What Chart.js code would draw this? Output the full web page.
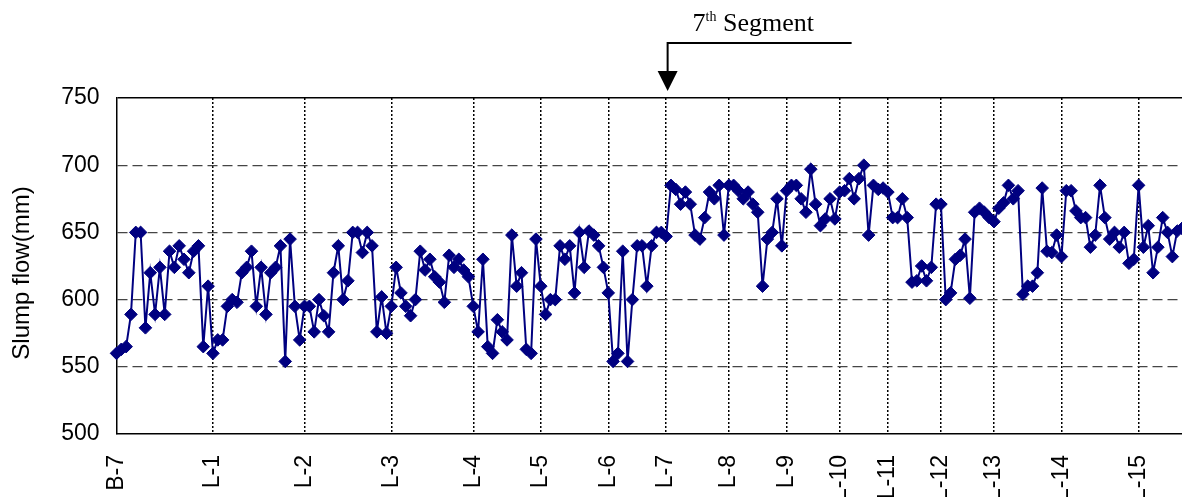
<!DOCTYPE html>
<html>
<head>
<meta charset="utf-8">
<script src="https://cdn.jsdelivr.net/npm/chart.js@4/dist/chart.umd.min.js"></script>
<style>
  html, body { margin: 0; padding: 0; background: #fff; }
  #wrap { width: 1182px; height: 497px; position: relative; }
</style>
</head>
<body>
<div id="wrap"><canvas id="slump-chart"></canvas></div>
<script>
// slump flow readings, one per truck, in mm
const slumpFlow = [
    560, 563, 565, 589, 650, 650, 579, 620, 589, 624,
    589, 636, 624, 640, 630, 620, 636, 640, 565, 610,
    560, 570, 570, 595, 600, 598, 620, 624, 636, 595,
    624, 589, 620, 624, 640, 554, 645, 595, 570, 595,
    595, 576, 600, 588, 576, 620, 640, 600, 614, 650,
    650, 635, 650, 640, 576, 602, 575, 595, 624, 605,
    595, 588, 600, 636, 622, 630, 617, 613, 598, 633,
    624, 630, 622, 617, 595, 576, 630, 565, 560, 585,
    576, 570, 648, 610, 620, 563, 560, 645, 610, 589,
    600, 600, 640, 630, 640, 605, 650, 624, 651, 648,
    640, 624, 605, 554, 560, 636, 554, 600, 640, 640,
    610, 640, 650, 650, 647, 685, 682, 671, 680, 671,
    648, 645, 661, 680, 675, 685, 648, 685, 685, 681,
    675, 680, 671, 665, 610, 645, 650, 675, 640, 681,
    685, 685, 675, 665, 697, 671, 655, 660, 675, 660,
    680, 681, 690, 675, 690, 700, 648, 685, 682, 683,
    680, 661, 661, 675, 661, 613, 614, 625, 614, 624,
    671, 671, 600, 605, 630, 633, 645, 601, 665, 668,
    665, 661, 658, 668, 672, 685, 675, 681, 604, 610,
    610, 620, 683, 636, 635, 648, 632, 681, 681, 666,
    661, 661, 639, 648, 685, 661, 645, 650, 639, 650,
    627, 630, 685, 639, 655, 620, 639, 661, 650, 632,
    651, 653
]

// lot names and the reading where each lot starts
const lotNames = ['B-7', 'L-1', 'L-2', 'L-3', 'L-4', 'L-5', 'L-6', 'L-7',
                  'L-8', 'L-9', 'L-10', 'L-11', 'L-12', 'L-13', 'L-14', 'L-15']
const lotStart = [0, 20, 39, 57, 74, 88, 102, 114, 127, 139, 150, 160, 171, 182, 196, 212]

const yTicks = [500, 550, 600, 650, 700, 750]
const yTitle = 'Slump flow(mm)'
const markerLot = 'L-7'
const markerText = ['7', 'th', ' Segment']

const navy = '#000080'
const sans = '"Liberation Sans", Arial, sans-serif'
const serif = '"Liberation Serif", "Times New Roman", serif'

let labels = slumpFlow.map(() => '')
lotStart.forEach((idx, i) => { labels[idx] = lotNames[i] })

// arrow + "7th Segment" over the start of the 7th segment, and the y title
const extras = {
    id: 'extras',
    afterDraw(chart) {
        const ctx = chart.ctx
        const area = chart.chartArea
        const idx = lotStart[lotNames.indexOf(markerLot)]
        const x = chart.scales.x.getPixelForValue(idx) + 1.5
        const top = area.top

        ctx.save()
        ctx.strokeStyle = '#000'
        ctx.fillStyle = '#000'
        ctx.lineWidth = 2
        ctx.beginPath()
        ctx.moveTo(x + 184, top - 55)
        ctx.lineTo(x, top - 55)
        ctx.lineTo(x, top - 26)
        ctx.stroke()

        ctx.beginPath()
        ctx.moveTo(x - 10, top - 27)
        ctx.lineTo(x + 10, top - 27)
        ctx.lineTo(x, top - 7)
        ctx.closePath()
        ctx.fill()

        let tx = x + 25
        const base = top - 67
        ctx.textBaseline = 'alphabetic'
        ctx.textAlign = 'left'
        ctx.font = '26px ' + serif
        ctx.fillText(markerText[0], tx, base)
        tx += ctx.measureText(markerText[0]).width
        ctx.font = '14px ' + serif
        ctx.fillText(markerText[1], tx, base - 10)
        tx += ctx.measureText(markerText[1]).width
        ctx.font = '26px ' + serif
        ctx.fillText(markerText[2], tx, base)

        // y axis title, a little below the middle of the plot like the original
        ctx.translate(22, (area.top + area.bottom) / 2 + 7)
        ctx.rotate(-Math.PI / 2)
        ctx.textAlign = 'center'
        ctx.textBaseline = 'middle'
        ctx.font = '24px ' + sans
        ctx.fillText(yTitle, 0, 0)
        ctx.restore()
    }
}

const config = {
    type: 'line',
    data: {
        labels: labels,
        datasets: [{
            label: 'Slump flow',
            data: slumpFlow,
            borderColor: navy,
            backgroundColor: navy,
            borderWidth: 2,
            pointStyle: 'rectRot',
            pointRadius: 6.3,
            pointBackgroundColor: navy,
            pointBorderColor: navy,
            pointBorderWidth: 1,
            tension: 0,
            fill: false,
            clip: false
        }]
    },
    options: {
        responsive: true,
        maintainAspectRatio: false,
        animation: false,
        events: [],
        layout: { autoPadding: false, padding: { top: 98, right: 0, bottom: 0, left: 0 } },
        plugins: {
            legend: { display: false },
            tooltip: { enabled: false }
        },
        scales: {
            x: {
                type: 'category',
                offset: false,
                afterFit: (scale) => {
                    scale.height = 63
                    scale.paddingLeft = 0
                    scale.paddingRight = 0
                },
                grid: {
                    offset: false,
                    drawTicks: false,
                    lineWidth: 1.5,
                    color: (c) => (c.tick && c.tick.label !== '' && c.index > 0) ? '#000' : 'rgba(0,0,0,0)'
                },
                border: {
                    color: '#000',
                    width: 1.5,
                    dash: (c) => c.tick ? [2, 2] : []
                },
                ticks: {
                    autoSkip: false,
                    maxRotation: 90,
                    minRotation: 90,
                    padding: 21,
                    color: '#000',
                    font: { family: sans, size: 23 }
                }
            },
            y: {
                min: yTicks[0],
                max: yTicks[yTicks.length - 1],
                afterFit: (scale) => { scale.width = 116.5 },
                afterBuildTicks: (scale) => { scale.ticks = yTicks.map(v => ({ value: v })) },
                grid: {
                    drawTicks: false,
                    lineWidth: (c) => (c.tick && c.tick.value === 750) ? 1.5 : 1.3,
                    color: (c) => {
                        if (!c.tick || c.tick.value === 500) return 'rgba(0,0,0,0)'
                        return c.tick.value === 750 ? '#000' : '#454545'
                    }
                },
                border: {
                    color: '#000',
                    width: 1.5,
                    dash: (c) => (c.tick && c.tick.value > 500 && c.tick.value < 750) ? [10, 5] : []
                },
                ticks: {
                    padding: 17,
                    color: '#000',
                    font: { family: sans, size: 23 }
                }
            }
        }
    },
    plugins: [extras]
}

document.addEventListener('DOMContentLoaded', () => {
    new Chart(document.getElementById('slump-chart'), config)
})
</script>
</body>
</html>
